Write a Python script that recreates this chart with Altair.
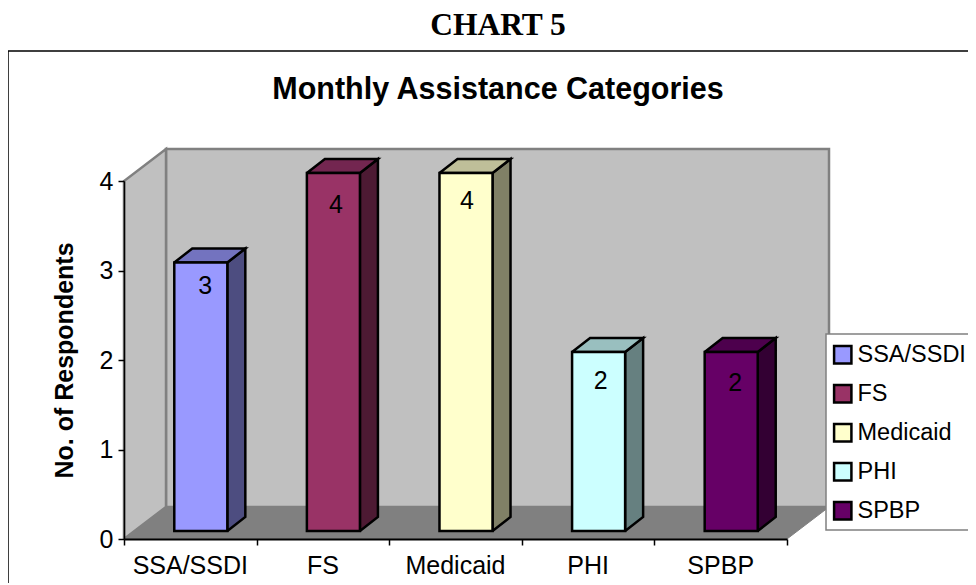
import altair as alt
import pandas as pd

categories = ["SSA/SSDI", "FS", "Medicaid", "PHI", "SPBP"]
respondents = [3, 4, 4, 2, 2]
front_colors = ["#9999FF", "#993366", "#FFFFCC", "#CCFFFF", "#660066"]
top_colors = ["#7373BF", "#732650", "#BFBF99", "#99BFBF", "#4D004D"]
side_colors = ["#4D4D80", "#4D1A33", "#808066", "#668080", "#330033"]
y_ticks = [0, 1, 2, 3, 4]
x_ticks = [0, 1, 2, 3, 4, 5]

# plot-area geometry: one data unit in pixels, and the 3-D depth of the box
W, H = 663, 358
PX, PY = W / 5, H / 4
DX, DY = 42 / PX, 32 / PY          # depth of the walls
OX, OY = 10.5 / PX, 8 / PY         # bar's front face set back from the axis plane
BX, BY = 18 / PX, 14 / PY          # depth of a bar
BAR = 0.4
YMAX = 4

polys = []


def poly(name, pts, fill, stroke, sw):
    for k, (x, y) in enumerate(pts):
        polys.append(dict(name=name, k=k, x=x, y=y, fill=fill, stroke=stroke, sw=sw))


wall = [(DX, DY), (5 + DX, DY), (5 + DX, YMAX + DY), (DX, YMAX + DY), (DX, DY)]
side = [(0, 0), (DX, DY), (DX, YMAX + DY), (0, YMAX), (0, 0)]
floor = [(0, 0), (5, 0), (5 + DX, DY), (DX, DY), (0, 0)]
poly("wall", wall, "#C0C0C0", "#808080", 2.5)
poly("sidewall", side, "#C0C0C0", "#808080", 2.5)
poly("floor", floor, "#808080", "#808080", 1)

# hand-placed data-label nudges, in pixels
nudge_x = [4.5, 2.5, 1, 2, 4]
nudge_y = [23, 32, 28, 29, 31]

rows = []
for i, (c, v) in enumerate(zip(categories, respondents)):
    x0 = i + 0.5 - BAR / 2 + OX
    x1 = x0 + BAR
    base = OY
    top = OY + v
    poly(f"side{i}", [(x1, base), (x1 + BX, base + BY), (x1 + BX, top + BY), (x1, top), (x1, base)],
         side_colors[i], "#000000", 2.5)
    poly(f"top{i}", [(x0, top), (x1, top), (x1 + BX, top + BY), (x0 + BX, top + BY), (x0, top)],
         top_colors[i], "#000000", 2.5)
    rows.append(dict(category=c, value=v, x0=x0, x1=x1, base=base, top=top,
                     lx=(x0 + x1) / 2 + nudge_x[i] / PX, ly=top - nudge_y[i] / PY, cx=i + 0.5))

poly_df = pd.DataFrame(polys)
bars_df = pd.DataFrame(rows)

xs = alt.Scale(domain=[0, 5], nice=False, zero=False)
ys = alt.Scale(domain=[0, 4], nice=False, zero=False)

x_axis = alt.Axis(values=x_ticks, labels=False, title=None, tickSize=6, tickColor="#000000",
                  domainColor="#000000", domainWidth=2, tickWidth=1.5, grid=False, zindex=1)
y_axis = alt.Axis(values=y_ticks, format="d", title="No. of Respondents", titleFontSize=25,
                  titleFont="Liberation Sans", titleFontWeight="bold", titleColor="#000000",
                  titlePadding=22, labelFontSize=25, labelFont="Liberation Sans",
                  labelColor="#000000", labelPadding=5, tickSize=6, tickColor="#000000",
                  tickWidth=1.5, domainColor="#000000", domainWidth=1.5, grid=False, zindex=1)

frame = alt.Chart(pd.DataFrame({"a": [0]})).mark_rect(
    filled=False, stroke="#000000", strokeWidth=1.5
).encode(x=alt.value(-116), x2=alt.value(900), y=alt.value(-130), y2=alt.value(600))

polygons = alt.Chart(poly_df).mark_line(interpolate="linear", strokeJoin="miter").encode(
    x=alt.X("x:Q", scale=xs, axis=x_axis),
    y=alt.Y("y:Q", scale=ys, axis=y_axis),
    order="k:Q",
    detail="name:N",
    fill=alt.Fill("fill:N", scale=None),
    stroke=alt.Stroke("stroke:N", scale=None),
    strokeWidth=alt.StrokeWidth("sw:Q", scale=None),
)

legend_box = alt.Chart(pd.DataFrame({"a": [0]})).mark_rect(
    fill="#FFFFFF", stroke="#808080", strokeWidth=1.5
).encode(x=alt.value(702), x2=alt.value(900), y=alt.value(153), y2=alt.value(349))

fronts = alt.Chart(bars_df).mark_bar(stroke="#000000", strokeWidth=2.5, opacity=1).encode(
    x=alt.X("x0:Q", scale=xs, axis=x_axis),
    x2="x1:Q",
    y=alt.Y("top:Q", scale=ys, axis=y_axis),
    y2="base:Q",
    fill=alt.Fill(
        "category:N",
        scale=alt.Scale(domain=categories, range=front_colors),
        sort=categories,
        legend=alt.Legend(
            title=None, orient="none", legendX=707, legendY=162,
            symbolType="square", symbolSize=300, symbolStrokeColor="#000000", symbolStrokeWidth=2.5,
            labelFontSize=23.5, labelFont="Liberation Sans", labelColor="#000000", labelOffset=3,
            rowPadding=11, padding=0, labelLimit=300,
        ),
    ),
)

bar_labels = alt.Chart(bars_df).mark_text(
    fontSize=25, font="Liberation Sans", color="#000000", baseline="middle", align="center"
).encode(
    x=alt.X("lx:Q", scale=xs, axis=x_axis),
    y=alt.Y("ly:Q", scale=ys, axis=y_axis),
    text=alt.Text("value:Q", format="d"),
)

cat_labels = alt.Chart(bars_df).mark_text(
    fontSize=25, font="Liberation Sans", color="#000000", baseline="middle", align="center"
).encode(
    x=alt.X("cx:Q", scale=xs, axis=x_axis),
    y=alt.value(H + 27),
    text="category:N",
)

title_chart = alt.Chart(pd.DataFrame({"t": ["CHART 5"]})).mark_text(
    fontSize=31.5, font="Liberation Serif", fontWeight="bold", color="#000000",
    baseline="middle", align="center"
).encode(x=alt.value(374), y=alt.value(-155), text="t:N")

title_main = alt.Chart(pd.DataFrame({"t": ["Monthly Assistance Categories"]})).mark_text(
    fontSize=30.5, font="Liberation Sans", fontWeight="bold", color="#000000",
    baseline="middle", align="center"
).encode(x=alt.value(374), y=alt.value(-91), text="t:N")

chart = alt.layer(
    frame, polygons, legend_box, fronts, bar_labels, cat_labels, title_chart, title_main
).resolve_scale(fill="independent").properties(
    width=W,
    height=H,
    padding={"left": 116, "top": 173, "right": 181, "bottom": 44},
    autosize=alt.AutoSizeParams(type="none"),
    background="#FFFFFF",
).configure_view(stroke=None)

chart.save("out.html", embed_options={"renderer": "svg", "actions": False})
